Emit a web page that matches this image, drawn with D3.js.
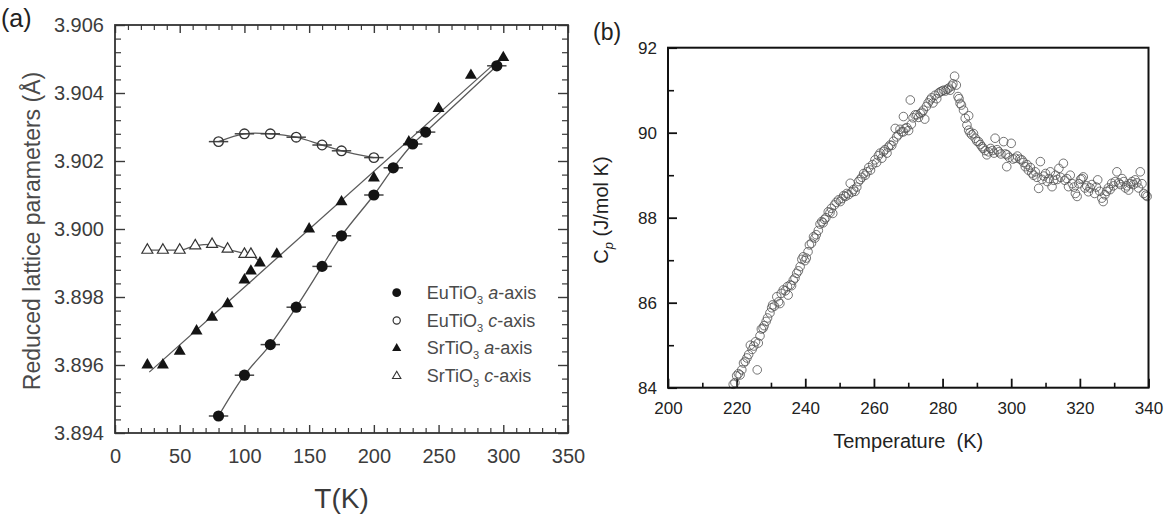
<!DOCTYPE html>
<html>
<head>
<meta charset="utf-8">
<script src="https://cdn.jsdelivr.net/npm/d3@7"></script>
<style>
  html, body { margin: 0; padding: 0; background: #fff; }
  svg { display: block; font-family: "Liberation Sans", Arial, Helvetica, sans-serif; }
</style>
</head>
<body>
<svg id="chart" width="1167" height="524"></svg>
<script>
// ---------------- Panel (a) data ----------------
const euA_T = [80, 100, 120, 140, 160, 175, 200, 215, 230, 240, 295];
const euA_V = [3.8945, 3.8957, 3.8966, 3.8977, 3.8989, 3.8998, 3.9010, 3.9018, 3.9025, 3.90285, 3.9048];

const euC_T = [80, 100, 120, 140, 160, 175, 200];
const euC_V = [3.90257, 3.9028, 3.9028, 3.9027, 3.90247, 3.9023, 3.9021];

const srA_T = [25, 37, 50, 63, 75, 87, 100, 105, 112, 125, 150, 175, 200, 227, 250, 275, 300];
const srA_V = [3.8960, 3.8960, 3.8964, 3.8970, 3.8974, 3.8978, 3.8985, 3.89876, 3.8990, 3.89926,
               3.9000, 3.9008, 3.9015, 3.90256, 3.90354, 3.90452, 3.90504];

const srC_T = [25, 37, 50, 62, 75, 87, 100, 105];
const srC_V = [3.89938, 3.89938, 3.89938, 3.89951, 3.89955, 3.89941, 3.89926, 3.89926];

// fitted guide lines
const srAFit_T = [26.5, 296];
const srAFit_V = [3.89579, 3.90496];
const srCFit_T = [23, 25, 37, 50, 62, 75, 87, 100, 105, 113];
const srCFit_V = [3.89938, 3.89938, 3.89938, 3.89938, 3.89951, 3.89955, 3.89941, 3.89928, 3.89924, 3.8990];

const errK = 7.5; // horizontal error bar half-width (K)

const xTicksA = [0, 50, 100, 150, 200, 250, 300, 350];
const yTicksA = [3.894, 3.896, 3.898, 3.900, 3.902, 3.904, 3.906];

const legendA = [
  { base: "EuTiO", sub: "3", ital: "a", rest: "-axis", sym: "fcircle" },
  { base: "EuTiO", sub: "3", ital: "c", rest: "-axis", sym: "ocircle" },
  { base: "SrTiO", sub: "3", ital: "a", rest: "-axis", sym: "ftri" },
  { base: "SrTiO", sub: "3", ital: "c", rest: "-axis", sym: "otri" }
];

// ---------------- Panel (b) data ----------------
const cpT = [
219.0,219.5,220.0,220.5,221.0,221.5,222.0,222.5,223.0,223.5,224.0,224.5,225.0,225.5,226.0,226.3,226.8,227.2,227.7,228.0,
228.6,229.0,229.7,230.2,230.5,231.0,231.7,232.2,232.6,233.0,233.6,234.2,234.8,235.0,235.6,236.0,236.5,237.0,237.5,238.0,
238.5,239.0,239.4,239.9,240.3,240.8,241.2,241.8,242.4,242.8,243.2,243.8,244.3,244.8,245.2,245.6,246.0,246.7,247.2,247.6,
248.0,248.5,249.0,249.7,250.2,250.7,251.2,251.7,252.1,252.6,253.1,253.6,254.0,254.5,255.0,255.5,256.0,256.5,257.0,257.5,
258.0,258.5,259.0,259.6,260.3,260.8,261.3,261.8,262.3,262.8,263.2,263.8,264.2,264.7,265.2,265.7,266.2,266.6,267.1,267.6,
268.1,268.6,268.6,269.1,269.6,270.1,270.6,270.9,271.4,272.0,272.5,273.0,273.5,274.0,274.4,274.8,275.3,275.8,276.4,276.8,
277.2,277.8,278.3,278.8,279.3,279.8,280.3,280.8,281.3,281.8,282.2,282.7,283.0,283.5,284.0,284.5,284.8,285.1,285.5,286.1,
286.6,287.1,287.6,287.6,288.0,288.5,289.0,289.5,290.0,290.5,291.0,291.5,291.8,292.4,292.9,293.4,294.0,294.5,295.0,295.3,
295.9,296.4,297.0,297.8,298.3,298.7,298.8,299.4,300.0,300.5,301.2,301.8,302.5,303.1,303.6,304.1,304.6,305.0,305.6,306.0,
306.5,307.0,307.5,308.0,308.5,309.0,309.5,310.0,310.5,311.0,311.4,311.9,312.4,312.9,313.4,313.9,314.4,315.2,315.6,316.2,
316.7,317.2,317.8,318.3,318.7,319.2,319.7,320.2,320.6,321.0,321.5,322.0,322.5,323.0,323.5,324.3,324.8,325.2,325.8,326.4,
326.8,327.3,327.8,328.3,328.8,329.3,329.8,330.3,330.8,331.3,331.8,332.3,332.8,333.3,333.7,334.2,334.7,335.2,335.6,336.1,
336.6,337.1,337.6,338.1,338.6,339.2,339.6];
const cpV = [
84.08,84.12,84.28,84.33,84.30,84.42,84.58,84.62,84.70,84.78,85.00,84.90,84.98,85.08,84.42,85.05,85.22,85.38,85.40,85.46,
85.56,85.64,85.76,85.88,85.95,85.92,86.14,86.02,85.98,86.22,86.30,86.28,86.38,86.18,86.42,86.40,86.53,86.58,86.69,86.75,
86.85,87.02,87.08,86.99,87.05,87.20,87.36,87.40,87.55,87.52,87.60,87.70,87.85,87.91,87.88,87.96,88.00,88.14,88.12,88.22,
88.10,88.30,88.36,88.42,88.38,88.45,88.52,88.50,88.57,88.54,88.81,88.60,88.66,88.62,88.72,88.85,88.90,88.95,89.04,89.00,
89.08,89.18,89.12,89.25,89.36,89.30,89.46,89.52,89.40,89.56,89.60,89.52,89.66,89.71,89.70,89.80,90.10,89.90,89.95,90.08,
90.02,90.02,90.38,90.10,90.12,90.05,90.77,90.20,90.35,90.42,90.42,90.36,90.45,90.48,90.53,90.32,90.62,90.70,90.77,90.82,
90.70,90.88,90.80,90.93,90.96,90.98,91.00,90.98,91.02,91.05,91.00,91.10,91.15,91.33,91.12,90.85,90.80,90.69,90.65,90.53,
90.34,90.18,90.40,90.06,90.00,89.95,89.98,89.87,89.80,89.79,89.72,89.67,89.63,89.58,89.48,89.55,89.63,89.58,89.52,89.87,
89.60,89.55,89.50,89.79,89.50,89.20,89.48,89.42,89.75,89.38,89.40,89.45,89.38,89.36,89.30,89.20,89.25,89.12,89.18,89.05,
89.00,89.08,88.95,88.69,89.32,88.90,88.98,89.04,88.85,88.92,89.08,88.73,88.88,89.00,88.90,89.16,88.95,89.28,88.88,88.92,
88.73,89.00,88.80,88.72,88.57,88.50,88.80,88.90,88.92,88.96,88.70,88.75,88.61,88.70,88.78,88.57,88.72,88.89,88.62,88.46,
88.38,88.54,88.62,88.70,88.66,88.81,88.75,88.85,89.08,88.82,88.78,88.92,88.85,88.70,88.75,88.65,88.80,88.85,88.78,88.89,
88.82,88.70,89.08,88.80,88.57,88.53,88.50];

const xTicksB = [200, 220, 240, 260, 280, 300, 320, 340];
const yTicksB = [84, 86, 88, 90, 92];

// ---------------- drawing ----------------
const svg = d3.select("#chart");
svg.append("rect").attr("width", 1167).attr("height", 524).attr("fill", "#fff");

// ===== Panel (a) =====
const xA = d3.scaleLinear().domain([0, 350]).range([115, 568]);
const yA = d3.scaleLinear().domain([3.894, 3.906]).range([433, 25]);
const gA = svg.append("g");
const axCol = "#3a3a3a";

const minorXA = d3.range(0, 351, 10).filter(v => v % 50 !== 0);
const minorYA = d3.range(0, 31).map(i => +(3.894 + i * 0.0004).toFixed(4)).filter(v => Math.round(v * 10000) % 20 !== 0);

function styleAxis(g, col, w) {
  g.select(".domain").remove();
  g.selectAll(".tick line").attr("stroke", col).attr("stroke-width", w);
}

// bottom
gA.append("g").attr("transform", `translate(0,${yA(3.894)})`)
  .call(d3.axisBottom(xA).tickValues(xTicksA).tickSize(-8).tickPadding(16).tickFormat(d3.format("d")))
  .call(g => styleAxis(g, axCol, 1.4))
  .call(g => g.selectAll("text").attr("fill", "#3c3c3c").attr("font-size", 20));
gA.append("g").attr("transform", `translate(0,${yA(3.894)})`)
  .call(d3.axisBottom(xA).tickValues(minorXA).tickSize(-5).tickFormat(""))
  .call(g => styleAxis(g, axCol, 1.2));
// top
gA.append("g").attr("transform", `translate(0,${yA(3.906)})`)
  .call(d3.axisTop(xA).tickValues(xTicksA).tickSize(-8).tickFormat(""))
  .call(g => styleAxis(g, axCol, 1.4));
gA.append("g").attr("transform", `translate(0,${yA(3.906)})`)
  .call(d3.axisTop(xA).tickValues(minorXA).tickSize(-5).tickFormat(""))
  .call(g => styleAxis(g, axCol, 1.2));
// left
gA.append("g").attr("transform", `translate(${xA(0)},0)`)
  .call(d3.axisLeft(yA).tickValues(yTicksA).tickSize(-10).tickPadding(11).tickFormat(d3.format(".3f")))
  .call(g => styleAxis(g, axCol, 1.4))
  .call(g => g.selectAll("text").attr("fill", "#3c3c3c").attr("font-size", 20));
gA.append("g").attr("transform", `translate(${xA(0)},0)`)
  .call(d3.axisLeft(yA).tickValues(minorYA).tickSize(-6).tickFormat(""))
  .call(g => styleAxis(g, axCol, 1.2));
// right
gA.append("g").attr("transform", `translate(${xA(350)},0)`)
  .call(d3.axisRight(yA).tickValues(yTicksA).tickSize(-10).tickFormat(""))
  .call(g => styleAxis(g, axCol, 1.4));
gA.append("g").attr("transform", `translate(${xA(350)},0)`)
  .call(d3.axisRight(yA).tickValues(minorYA).tickSize(-6).tickFormat(""))
  .call(g => styleAxis(g, axCol, 1.2));

// frame
gA.append("rect")
  .attr("x", xA(0)).attr("y", yA(3.906))
  .attr("width", xA(350) - xA(0)).attr("height", yA(3.894) - yA(3.906))
  .attr("fill", "none").attr("stroke", "#333").attr("stroke-width", 1.8);

// lines
const zip = (T, V) => T.map((t, i) => ({ t, v: V[i] }));
const lineA = (curve) => d3.line().x(d => xA(d.t)).y(d => yA(d.v)).curve(curve);
const lineStroke = "#5a5a5a";
gA.append("path").datum(zip(srAFit_T, srAFit_V)).attr("d", lineA(d3.curveLinear))
  .attr("fill", "none").attr("stroke", lineStroke).attr("stroke-width", 1.3);
gA.append("path").datum(zip(euA_T, euA_V)).attr("d", lineA(d3.curveCatmullRom))
  .attr("fill", "none").attr("stroke", lineStroke).attr("stroke-width", 1.3);
gA.append("path").datum(zip(euC_T, euC_V)).attr("d", lineA(d3.curveCatmullRom))
  .attr("fill", "none").attr("stroke", lineStroke).attr("stroke-width", 1.3);
gA.append("path").datum(zip(srCFit_T, srCFit_V)).attr("d", lineA(d3.curveMonotoneX))
  .attr("fill", "none").attr("stroke", lineStroke).attr("stroke-width", 1.3);

// error bars
[zip(euA_T, euA_V), zip(euC_T, euC_V)].forEach(data => {
  gA.append("g").selectAll("line").data(data).join("line")
    .attr("x1", d => xA(d.t - errK)).attr("x2", d => xA(d.t + errK))
    .attr("y1", d => yA(d.v)).attr("y2", d => yA(d.v))
    .attr("stroke", "#444").attr("stroke-width", 1.5);
});

const markCol = "#141414";
gA.append("g").selectAll("circle").data(zip(euA_T, euA_V)).join("circle")
  .attr("cx", d => xA(d.t)).attr("cy", d => yA(d.v)).attr("r", 5.6).attr("fill", markCol);
gA.append("g").selectAll("circle").data(zip(euC_T, euC_V)).join("circle")
  .attr("cx", d => xA(d.t)).attr("cy", d => yA(d.v)).attr("r", 4.8)
  .attr("fill", "none").attr("stroke", "#333").attr("stroke-width", 1.3);
const triBig = d3.symbol(d3.symbolTriangle).size(62)();
gA.append("g").selectAll("path").data(zip(srA_T, srA_V)).join("path")
  .attr("transform", d => `translate(${xA(d.t)},${yA(d.v)})`).attr("d", triBig).attr("fill", markCol);
const triOpen = d3.symbol(d3.symbolTriangle).size(52)();
gA.append("g").selectAll("path").data(zip(srC_T, srC_V)).join("path")
  .attr("transform", d => `translate(${xA(d.t)},${yA(d.v)})`).attr("d", triOpen)
  .attr("fill", "#fff").attr("stroke", "#333").attr("stroke-width", 1.2);

// legend
const legX = 396.7, legTextX = 426.7, legY0 = 292.7, legDy = 27.8;
const legG = gA.append("g");
legendA.forEach((it, i) => {
  const cy = legY0 + i * legDy;
  if (it.sym === "fcircle") legG.append("circle").attr("cx", legX).attr("cy", cy).attr("r", 4.4).attr("fill", markCol);
  if (it.sym === "ocircle") legG.append("circle").attr("cx", legX).attr("cy", cy).attr("r", 3.6)
    .attr("fill", "none").attr("stroke", "#333").attr("stroke-width", 1.2);
  if (it.sym === "ftri") legG.append("path").attr("transform", `translate(${legX},${cy})`)
    .attr("d", d3.symbol(d3.symbolTriangle).size(36)()).attr("fill", markCol);
  if (it.sym === "otri") legG.append("path").attr("transform", `translate(${legX},${cy})`)
    .attr("d", d3.symbol(d3.symbolTriangle).size(30)()).attr("fill", "none").attr("stroke", "#333").attr("stroke-width", 1.1);
  const t = legG.append("text").attr("x", legTextX).attr("y", cy + 6)
    .attr("font-size", 18).attr("fill", "#4a4a4a");
  t.append("tspan").text(it.base);
  t.append("tspan").attr("font-size", 11).attr("dy", 5).text(it.sub);
  t.append("tspan").attr("dy", -5).text(" ");
  t.append("tspan").attr("font-style", "italic").text(it.ital);
  t.append("tspan").text(it.rest);
});

// axis titles (a)
gA.append("text").attr("x", (xA(0) + xA(350)) / 2).attr("y", 508)
  .attr("text-anchor", "middle").attr("font-size", 28).attr("fill", "#3a3a3a").text("T(K)");
gA.append("text").attr("transform", `translate(40,${(yA(3.894) + yA(3.906)) / 2 + 2}) rotate(-90)`)
  .attr("text-anchor", "middle").attr("font-size", 23).attr("fill", "#4a4a4a")
  .text("Reduced lattice parameters (Å)");
svg.append("text").attr("x", 1).attr("y", 27).attr("font-size", 25).attr("fill", "#222").text("(a)");

// ===== Panel (b) =====
const xB = d3.scaleLinear().domain([200, 340]).range([668, 1148.5]);
const yB = d3.scaleLinear().domain([84, 92]).range([387.7, 47.7]);
const gB = svg.append("g");
const bCol = "#111";

gB.append("g").attr("transform", `translate(0,${yB(84)})`)
  .call(d3.axisBottom(xB).tickValues(xTicksB).tickSize(-9).tickPadding(14).tickFormat(d3.format("d")))
  .call(g => styleAxis(g, bCol, 1.8))
  .call(g => g.selectAll("text").attr("fill", "#222").attr("font-size", 17));
gB.append("g").attr("transform", `translate(0,${yB(84)})`)
  .call(d3.axisBottom(xB).tickValues(d3.range(210, 340, 20)).tickSize(-5).tickFormat(""))
  .call(g => styleAxis(g, bCol, 1.6));
gB.append("g").attr("transform", `translate(${xB(200)},0)`)
  .call(d3.axisLeft(yB).tickValues(yTicksB).tickSize(-9).tickPadding(11).tickFormat(d3.format("d")))
  .call(g => styleAxis(g, bCol, 1.8))
  .call(g => g.selectAll("text").attr("fill", "#222").attr("font-size", 17));
gB.append("g").attr("transform", `translate(${xB(200)},0)`)
  .call(d3.axisLeft(yB).tickValues([85, 87, 89, 91]).tickSize(-6).tickFormat(""))
  .call(g => styleAxis(g, bCol, 1.6));

gB.append("g").selectAll("circle").data(zip(cpT, cpV)).join("circle")
  .attr("cx", d => xB(d.t)).attr("cy", d => yB(d.v)).attr("r", 4.3)
  .attr("fill", "none").attr("stroke", "#505050").attr("stroke-width", 0.8);

gB.append("rect")
  .attr("x", xB(200)).attr("y", yB(92))
  .attr("width", xB(340) - xB(200)).attr("height", yB(84) - yB(92))
  .attr("fill", "none").attr("stroke", bCol).attr("stroke-width", 2);

gB.append("text").attr("x", (xB(200) + xB(340)) / 2).attr("y", 448)
  .attr("text-anchor", "middle").attr("font-size", 20).attr("fill", "#222")
  .attr("xml:space", "preserve").text("Temperature  (K)");
const cpLab = gB.append("text").attr("transform", `translate(608,210) rotate(-90)`)
  .attr("text-anchor", "middle").attr("font-size", 20).attr("fill", "#222");
cpLab.append("tspan").text("C");
cpLab.append("tspan").attr("font-size", 13).attr("font-style", "italic").attr("dy", 5).text("p");
cpLab.append("tspan").attr("dy", -5).text(" (J/mol K)");
svg.append("text").attr("x", 593).attr("y", 40).attr("font-size", 23).attr("fill", "#222").text("(b)");
</script>
</body>
</html>
